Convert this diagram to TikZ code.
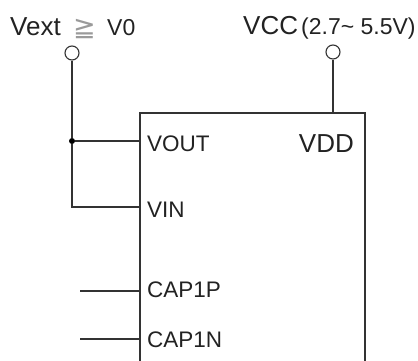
\documentclass[tikz,border=0pt]{standalone}
\usepackage{fontspec}
\setmainfont{Liberation Sans}
\newfontfamily\symfont{DejaVu Sans}
\definecolor{wirec}{HTML}{333333}
\definecolor{textc}{HTML}{222222}
\definecolor{geqc}{HTML}{9A9A9A}
\begin{document}
\begin{tikzpicture}[x=1pt,y=-1pt,
  wire/.style={line width=1.2pt, draw=wirec},
  term/.style={circle, draw=wirec, line width=1.1pt, fill=white, minimum size=14pt, inner sep=0pt},
  jdot/.style={circle, fill=black, minimum size=6pt, inner sep=0pt},
  pinlbl/.style={anchor=base west, inner sep=0pt, text=textc, font=\fontsize{22.5}{26}\selectfont},
  biglbl/.style={inner sep=0pt, text=textc, font=\fontsize{26}{30}\selectfont},
  smalllbl/.style={inner sep=0pt, text=textc, font=\fontsize{23}{26}\selectfont},
  chip/.style={draw=wirec, line width=1.2pt, minimum width=225pt, minimum height=287pt, inner sep=0pt}]
\useasboundingbox (0,0) rectangle (418,361);
\clip (0,0) rectangle (418,361);
% chip body (extends below the picture)
\node[chip] (ic) at (252.5,256.5) {};
% pin points on the chip
\coordinate (pvout) at (140,141);
\coordinate (pvin) at (140,207);
\coordinate (pcapp) at (140,291);
\coordinate (pcapn) at (140,339);
\coordinate (pvdd) at (333,113);
% terminals
\node[term] (vext) at (72,53) {};
\node[term] (vcc) at (333,52) {};
\node[jdot] (jn) at (72,141) {};
\coordinate (crn) at (72,207);
\coordinate (capp) at (80,291);
\coordinate (capn) at (80,339);
% wires
\draw[wire] (vext) -- (jn) -- (crn) -- (pvin);
\draw[wire] (jn) -- (pvout);
\draw[wire] (vcc) -- (pvdd);
\draw[wire] (capp) -- (pcapp);
\draw[wire] (capn) -- (pcapn);
% top labels
\node[biglbl, anchor=base west] (tvext) at (10,36) {Vext};
\node[inner sep=0pt, anchor=base west, text=geqc, font=\symfont\fontsize{27}{30}\selectfont] (tgeq) at (73,37) {≧};
\node[smalllbl, anchor=base west] (tv0) at (107,36) {V0};
\node[biglbl, anchor=base west] (tvcc) at (243,35) {VCC};
\node[smalllbl, anchor=base west] (trng) at (301,35) {(2.7\char`~\ 5.5V)};
% pin labels
\node[pinlbl] (lvout) at (147,151) {VOUT};
\node[pinlbl] (lvin) at (147,217) {VIN};
\node[pinlbl] (lcapp) at (147,297) {CAP1P};
\node[pinlbl] (lcapn) at (147,347) {CAP1N};
\node[biglbl, anchor=base east] (lvdd) at (354,152) {VDD};
\end{tikzpicture}
\end{document}
